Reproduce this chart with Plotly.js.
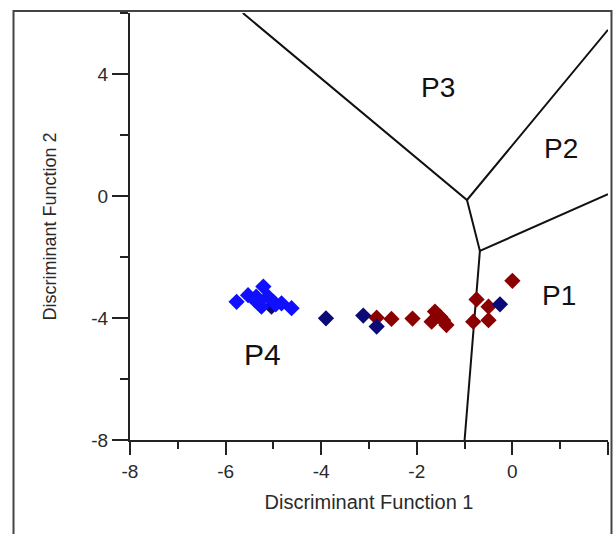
<!DOCTYPE html>
<html>
<head>
<meta charset="utf-8">
<script src="https://cdn.plot.ly/plotly-3.0.1.min.js"></script>
<style>html,body{margin:0;padding:0;background:#fff;}#chart{width:613px;height:534px;}</style>
</head>
<body>
<div id="chart"></div>
<script>
// Group 1 (dark red)
const redX = [-2.84, -2.53, -2.09, -1.62, -1.69, -1.51, -1.38, -1.45, -0.75, -0.82, -0.50, -0.50, 0.00];
const redY = [-3.99, -4.03, -4.02, -3.79, -4.12, -3.96, -4.23, -4.07, -3.39, -4.12, -3.63, -4.07, -2.78];
// Group 2 (navy)
const navyX = [-3.90, -3.12, -2.84, -0.26, -5.00, -5.04];
const navyY = [-4.01, -3.92, -4.28, -3.55, -3.47, -3.63];
// Group 3 (blue)
const blueX = [-5.77, -5.53, -5.36, -5.21, -5.32, -5.25, -5.11, -4.95, -4.83, -4.62, -5.40];
const blueY = [-3.47, -3.25, -3.30, -2.97, -3.47, -3.63, -3.30, -3.55, -3.52, -3.68, -3.40];
// Territorial boundaries (segments separated by null)
const boundX = [-5.64, -0.95, 2.0, null, -0.95, -0.68, 2.0, null, -0.68, -1.0];
const boundY = [6.0, -0.13, 5.45, null, -0.13, -1.80, 0.06, null, -1.80, -8.0];
// Region labels
const regionText = ['P1', 'P2', 'P3', 'P4'];
const regionX = [0.97, 1.02, -1.55, -5.22];
const regionY = [-3.25, 1.57, 3.56, -5.21];
const regionSize = [28, 28, 28, 30];
// Tick labels
const xTickVals = [-8, -6, -4, -2, 0, 2];
const xTickText = ['-8', '-6', '-4', '-2', '0', '2'];
const yTickVals = [-8, -4, 0, 4];
const yTickText = ['-8', '-4', '0', '4'];

const font = 'Arial, "Liberation Sans", sans-serif';
const mk = (c) => ({symbol: 'diamond', size: 12.5, color: c, line: {width: 0}});

const traces = [
  {x: boundX, y: boundY, mode: 'lines', line: {color: '#111', width: 2}, hoverinfo: 'skip', showlegend: false, connectgaps: false},
  {x: redX, y: redY, mode: 'markers', marker: mk('#8b0000'), showlegend: false},
  {x: navyX, y: navyY, mode: 'markers', marker: mk('#0b0b78'), showlegend: false},
  {x: blueX, y: blueY, mode: 'markers', marker: mk('#1010ff'), showlegend: false}
];

const annotations = regionText.map((t, i) => ({
  x: regionX[i], y: regionY[i], xref: 'x', yref: 'y', text: t, showarrow: false,
  font: {family: font, size: regionSize[i], color: '#111'}
}));

const layout = {
  width: 613, height: 534,
  margin: {l: 130, r: 5, t: 13, b: 94},
  paper_bgcolor: '#fff', plot_bgcolor: '#fff',
  showlegend: false,
  font: {family: font, color: '#333'},
  xaxis: {
    range: [-8, 2], tickmode: 'array', tickvals: xTickVals, ticktext: xTickText,
    showgrid: false, zeroline: false,
    showline: true, linecolor: '#222', linewidth: 2,
    ticks: 'outside', ticklen: 13, tickwidth: 2, tickcolor: '#222',
    tickfont: {family: font, size: 19, color: '#2a2a2a'},
    minor: {dtick: 1, tick0: -8, ticks: 'outside', ticklen: 7, tickwidth: 2, tickcolor: '#222', showgrid: false},
    title: {text: 'Discriminant Function 1', font: {family: font, size: 20, color: '#2a2a2a'}, standoff: 14}
  },
  yaxis: {
    range: [-8, 6], tickmode: 'array', tickvals: yTickVals, ticktext: yTickText,
    showgrid: false, zeroline: false,
    showline: true, linecolor: '#222', linewidth: 2,
    ticks: 'outside', ticklen: 16, tickwidth: 2, tickcolor: '#222',
    tickfont: {family: font, size: 19, color: '#2a2a2a'},
    minor: {dtick: 2, tick0: -8, ticks: 'outside', ticklen: 8, tickwidth: 2, tickcolor: '#222', showgrid: false},
    title: {text: 'Discriminant Function 2', font: {family: font, size: 18, color: '#2a2a2a'}, standoff: 30}
  },
  annotations: annotations,
  shapes: [{
    type: 'rect', xref: 'paper', yref: 'paper',
    x0: -0.2437, x1: 1.0073, y0: -0.25, y1: 1.0047,
    line: {color: '#444', width: 2}, layer: 'above'
  }]
};

Plotly.newPlot('chart', traces, layout, {displayModeBar: false, staticPlot: true});
</script>
</body>
</html>
